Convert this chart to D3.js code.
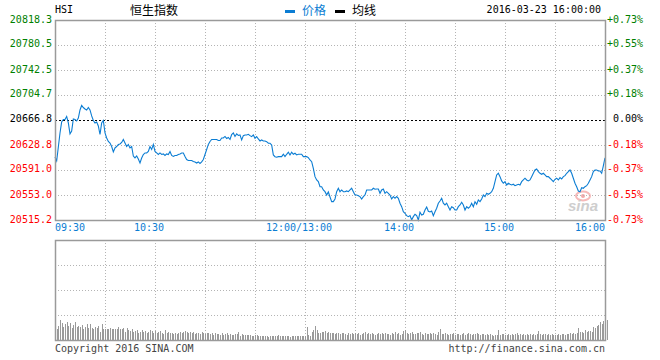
<!DOCTYPE html>
<html><head><meta charset="utf-8">
<script src="https://cdn.jsdelivr.net/npm/d3@7/dist/d3.min.js"></script>
<style>
html,body{margin:0;padding:0;background:#fff;}
svg{display:block;}
.mono{font-family:"DejaVu Sans Mono","Liberation Mono",monospace;font-size:10px;}
.cjk{font-family:"Noto Sans CJK SC",sans-serif;font-size:12px;}
</style>
</head><body>
<script>
// ---------- data ----------
const symbol = "HSI";
const title = "恒生指数";
const legendNames = ["价格", "均线"];
const stamp = "2016-03-23 16:00:00";
const prevClose = 20666.8;
const priceTicks = [20818.3, 20780.5, 20742.5, 20704.7, 20666.8, 20628.8, 20591.0, 20553.0, 20515.2];
const pctTicks = ["+0.73%", "+0.55%", "+0.37%", "+0.18%", "0.00%", "-0.18%", "-0.37%", "-0.55%", "-0.73%"];
const timeTickMinutes = [0, 60, 150, 210, 270, 330];
const timeTickLabels = ["09:30", "10:30", "12:00/13:00", "14:00", "15:00", "16:00"];
const gridMinutes = [0, 30, 60, 90, 120, 150, 180, 210, 240, 270, 300, 330];
// one price per trading minute (09:30-12:00, 13:00-16:00)
const prices = [
20610.7,20604.7,20625.9,20647.1,20663.8,20667.6,20667.6,20672.1,20662.3,20645.6,
20650.1,20668.3,20667.6,20665.3,20669.8,20682.0,20688.8,20685.7,20683.5,20682.0,
20685.7,20682.0,20672.9,20666.0,20662.3,20663.8,20657.7,20644.8,20662.3,20666.0,
20647.1,20639.5,20634.2,20631.9,20626.6,20618.3,20624.4,20626.6,20629.7,20630.4,
20632.7,20637.2,20631.9,20626.6,20629.7,20624.4,20626.6,20612.2,20609.2,20612.2,
20607.7,20601.6,20609.2,20614.5,20616.8,20616.8,20619.1,20626.6,20622.1,20629.7,
20619.1,20616.8,20614.5,20616.8,20614.5,20615.3,20613.0,20615.3,20614.5,20619.1,
20613.0,20611.5,20613.0,20613.0,20614.5,20615.3,20616.8,20616.8,20611.5,20606.9,
20605.4,20605.4,20605.4,20603.9,20603.2,20601.6,20603.2,20600.9,20603.2,20606.9,
20614.5,20622.1,20629.7,20634.2,20637.2,20637.2,20637.2,20637.2,20635.7,20635.7,
20639.5,20639.5,20641.8,20638.8,20640.3,20637.2,20644.8,20647.1,20641.8,20645.6,
20643.3,20644.1,20636.5,20643.0,20644.1,20644.1,20645.1,20643.0,20641.5,20644.1,
20639.1,20641.5,20638.0,20635.0,20636.5,20635.0,20635.0,20633.9,20631.5,20631.5,
20628.9,20613.8,20611.2,20610.3,20611.2,20611.2,20611.2,20614.8,20611.2,20614.8,
20617.9,20613.8,20617.9,20614.8,20616.3,20613.8,20614.8,20614.8,20614.8,20611.2,
20611.2,20611.2,20609.7,20606.2,20603.6,20593.6,20580.9,20575.9,20573.3,20565.7,
20565.7,20560.7,20558.1,20553.1,20557.7,20550.1,20543.0,20543.0,20547.1,20558.1,
20563.3,20558.1,20560.7,20558.1,20558.1,20559.2,20558.1,20560.7,20563.3,20558.1,
20553.1,20553.1,20552.1,20550.6,20547.1,20550.6,20553.1,20560.7,20560.7,20560.7,
20560.7,20563.3,20561.8,20562.2,20562.2,20555.7,20560.7,20562.2,20555.7,20558.1,
20555.7,20553.1,20547.1,20550.6,20548.1,20550.6,20548.1,20540.6,20535.4,20527.8,
20525.4,20521.8,20520.3,20521.8,20515.2,20520.3,20523.9,20521.8,20515.2,20526.9,
20522.8,20523.9,20530.4,20535.0,20528.4,20527.4,20528.9,20521.8,20527.8,20533.0,
20540.6,20544.0,20548.1,20540.6,20538.0,20540.6,20535.4,20530.4,20535.4,20533.9,
20530.4,20530.4,20535.4,20538.0,20542.1,20538.0,20530.4,20535.4,20533.0,20535.4,
20540.6,20535.4,20543.0,20539.0,20545.6,20543.0,20547.1,20553.1,20550.6,20555.7,
20554.2,20555.7,20558.1,20563.3,20573.3,20583.5,20586.0,20580.9,20574.4,20570.9,
20573.3,20568.3,20570.9,20569.4,20568.3,20569.4,20567.2,20568.3,20569.4,20568.3,
20573.3,20575.9,20578.5,20575.9,20574.4,20575.9,20580.9,20586.0,20591.0,20592.5,
20588.5,20586.0,20584.5,20586.0,20583.5,20580.9,20580.9,20578.5,20575.9,20573.3,
20576.9,20578.5,20575.9,20579.4,20577.4,20580.9,20582.4,20586.0,20588.5,20591.0,
20586.0,20578.5,20570.9,20565.7,20559.2,20558.1,20564.2,20563.3,20565.7,20567.2,
20570.9,20575.9,20580.9,20588.5,20591.0,20591.0,20589.5,20589.5,20586.0,20597.1,20609.2
];
// volume per minute (arbitrary units, panel top = 100)
const volumes = [
11,14,20,17,13,16,18,14,17,12,15,18,13,14,13,
15,11,13,16,12,16,12,11,13,12,14,8,16,11,11,
11,11,12,11,11,11,11,13,11,11,12,8,12,10,9,
11,8,9,10,7,8,10,8,9,7,8,10,9,7,9,
7,8,9,7,6,10,7,8,7,7,6,7,6,7,8,
7,8,9,8,7,8,7,8,6,7,7,6,8,7,6,
7,7,6,7,5,7,6,6,5,7,5,6,7,5,6,
5,5,6,6,8,4,6,5,5,5,5,5,4,4,5,
5,4,4,4,4,4,4,3,4,4,4,4,4,5,4,
4,4,4,4,4,3,4,4,4,4,4,4,4,4,4,
13,5,4,8,10,14,10,7,7,8,8,9,7,8,7,
7,7,6,7,7,6,7,7,6,5,7,6,7,6,7,
6,7,5,6,7,8,6,7,6,7,6,5,6,7,6,
7,6,7,6,6,5,7,6,8,6,7,5,6,9,10,
7,6,7,8,6,6,7,7,8,6,5,7,6,6,7,
6,7,6,5,8,11,6,6,7,6,5,6,6,7,5,
6,6,5,6,7,5,6,7,6,5,6,6,7,6,5,
6,6,5,6,5,6,5,4,5,5,10,5,6,6,5,
5,6,5,6,5,6,7,5,6,5,6,5,6,5,6,
5,6,5,6,9,6,5,6,6,5,6,5,6,5,5,
5,6,5,6,6,5,6,6,7,6,7,6,7,12,8,
8,7,10,8,9,9,8,13,12,14,15,18,16,19,27,20
];
const volMax = 100;
const copyright = "Copyright 2016 SINA.COM";
const siteUrl = "http://finance.sina.com.cn";

// ---------- drawing ----------
const W = 660, H = 360;
const L = 55, R = 605, T = 20, B = 220, VT = 240, VB = 340;
const blue = "#0b7dd3", green = "#008000", red = "#ff0000", gridC = "#b4b4b4", borderC = "#9a9a9a";

const svg = d3.select("body").append("svg").attr("width", W).attr("height", H);
svg.append("rect").attr("width", W).attr("height", H).attr("fill", "#fff");

const x = d3.scaleLinear().domain([0, 330]).range([L, R]);
const y = d3.scaleLinear().domain([priceTicks[priceTicks.length - 1], priceTicks[0]]).range([B, T]);
const vy = d3.scaleLinear().domain([0, volMax]).range([VB, VT]);
const vGrid = d3.range(0, volMax + 1, volMax / 4);

// header
svg.append("text").attr("class", "mono").attr("x", L).attr("y", 13).attr("fill", "#000").text(symbol);
svg.append("text").attr("class", "cjk").attr("x", 130).attr("y", 14.5).attr("fill", "#000").text(title);
const legColors = [blue, "#000"];
const legX = [285, 335];
legendNames.forEach((n, i) => {
  svg.append("rect").attr("x", legX[i]).attr("y", 10).attr("width", 10).attr("height", 3).attr("fill", legColors[i]);
  svg.append("text").attr("class", "cjk").attr("x", legX[i] + 17).attr("y", 14.5).attr("fill", legColors[i]).text(n);
});
svg.append("text").attr("class", "mono").attr("x", 601).attr("y", 13).attr("text-anchor", "end").attr("fill", "#000").text(stamp);

// watermark
const wm = svg.append("g").attr("opacity", 0.9);
wm.append("ellipse").attr("cx", 583).attr("cy", 196).attr("rx", 7).attr("ry", 4.5).attr("fill", "none").attr("stroke", "#f6b2b2").attr("stroke-width", 2);
wm.append("circle").attr("cx", 583).attr("cy", 196).attr("r", 2).attr("fill", "#f3a0a0");
wm.append("text").attr("x", 568).attr("y", 211).attr("font-family", "Liberation Sans, Arial, sans-serif")
  .attr("font-style", "italic").attr("font-weight", "bold").attr("font-size", 15).attr("fill", "#c9c9c9").text("sina");

// price panel grid
const gMain = svg.append("g");
gMain.selectAll("line.h").data(priceTicks).enter().append("line")
  .attr("x1", L).attr("x2", R).attr("y1", d => Math.round(y(d)) + 0.5).attr("y2", d => Math.round(y(d)) + 0.5)
  .attr("stroke", d => d === prevClose ? "#000" : gridC)
  .attr("stroke-dasharray", d => d === prevClose ? "2,2" : "1,2");
gMain.selectAll("line.v").data(gridMinutes).enter().append("line")
  .attr("x1", d => Math.round(x(d)) + 0.5).attr("x2", d => Math.round(x(d)) + 0.5).attr("y1", T).attr("y2", B)
  .attr("stroke", gridC).attr("stroke-dasharray", "1,2");

// volume panel grid
svg.selectAll("line.vh").data(vGrid).enter().append("line")
  .attr("x1", L).attr("x2", R).attr("y1", d => Math.round(vy(d)) + 0.5).attr("y2", d => Math.round(vy(d)) + 0.5)
  .attr("stroke", gridC).attr("stroke-dasharray", "1,2");
svg.selectAll("line.vv").data(gridMinutes).enter().append("line")
  .attr("x1", d => Math.round(x(d)) + 0.5).attr("x2", d => Math.round(x(d)) + 0.5).attr("y1", VT).attr("y2", VB)
  .attr("stroke", gridC).attr("stroke-dasharray", "1,2");

// volume bars
svg.append("g").selectAll("rect").data(volumes).enter().append("rect")
  .attr("x", (d, i) => Math.round(x(i) + 1.5)).attr("width", 1)
  .attr("y", d => vy(d)).attr("height", d => VB - vy(d))
  .attr("fill", "#9a9a9a");

// price line
const line = d3.line().x((d, i) => x(i)).y(d => y(d));
svg.append("path").datum(prices).attr("d", line).attr("fill", "none").attr("stroke", blue).attr("stroke-width", 1.1);

// borders
[[T, B], [VT, VB]].forEach(([t, b]) => {
  svg.append("path").attr("d", `M${L + 0.5},${t + 0.5}H${R + 0.5}V${b + 0.5}H${L + 0.5}Z`)
    .attr("fill", "none").attr("stroke", borderC).attr("stroke-width", 1.5);
});

// left price axis labels
const colorFor = v => v > prevClose ? green : (v < prevClose ? red : "#000");
const leftAxis = d3.axisLeft(y).tickValues(priceTicks).tickSize(0).tickPadding(3).tickFormat(d3.format(".1f"));
const gl = svg.append("g").attr("transform", `translate(${L},0)`).call(leftAxis);
gl.select(".domain").remove();
gl.selectAll("text").attr("class", "mono").attr("font-family", null).attr("font-size", null)
  .attr("dy", "0.2em").attr("fill", d => colorFor(d));

// right percent labels
const rightAxis = d3.axisRight(y).tickValues(priceTicks).tickSize(0).tickPadding(0)
  .tickFormat((d, i) => pctTicks[i]);
const gr = svg.append("g").attr("transform", `translate(643,0)`).call(rightAxis);
gr.select(".domain").remove();
gr.selectAll("text").attr("class", "mono").attr("font-family", null).attr("font-size", null)
  .attr("text-anchor", "end").attr("dy", "0.2em").attr("fill", d => colorFor(d));

// time labels
timeTickMinutes.forEach((m, i) => {
  const last = i === timeTickMinutes.length - 1;
  svg.append("text").attr("class", "mono")
    .attr("x", i === 0 ? x(m) : (last ? x(m) : x(m) - 6))
    .attr("y", 231)
    .attr("text-anchor", i === 0 ? "start" : (last ? "end" : "middle"))
    .attr("fill", blue).text(timeTickLabels[i]);
});

// footer
svg.append("text").attr("class", "mono").attr("x", L).attr("y", 352).attr("fill", "#444").text(copyright);
svg.append("text").attr("class", "mono").attr("x", R).attr("y", 352).attr("text-anchor", "end").attr("fill", "#444").text(siteUrl);
</script>
</body></html>
